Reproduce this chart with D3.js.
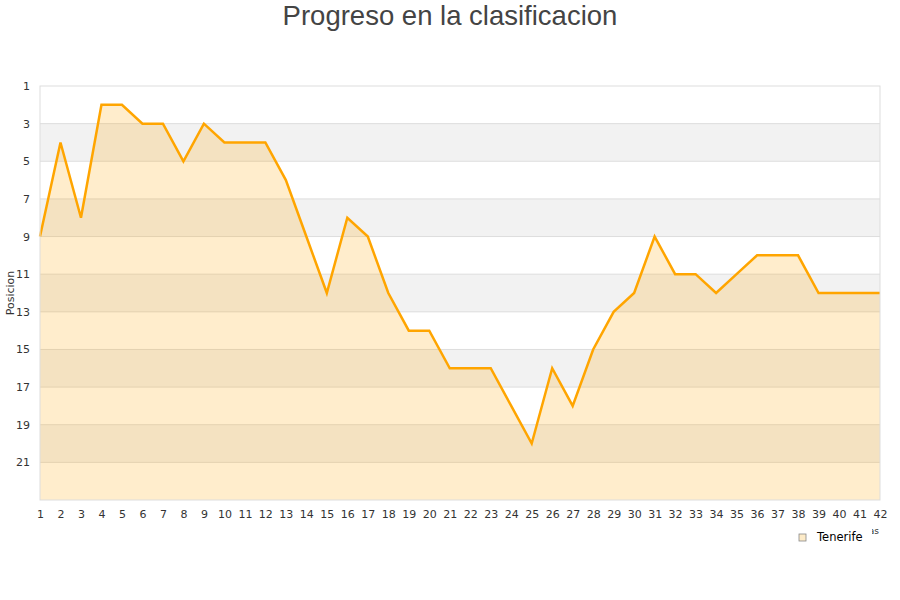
<!DOCTYPE html>
<html>
<head>
<meta charset="utf-8">
<script src="https://cdn.jsdelivr.net/npm/d3@7"></script>
<style>
  body { margin: 0; background: #fff; }
  svg { display: block; }
</style>
</head>
<body>
<div id="chart"></div>
<script>
// datos: jornada y posicion de Tenerife
var jornadas = d3.range(1, 43);
var posiciones = [9, 4, 8, 2, 2, 3, 3, 5, 3, 4, 4, 4, 6, 9, 12, 8, 9, 12, 14, 14, 16,
  16, 16, 18, 20, 16, 18, 15, 13, 12, 9, 11, 11, 12, 11, 10, 10, 10, 12, 12, 12, 12];
var yTicks = [1, 3, 5, 7, 9, 11, 13, 15, 17, 19, 21];
var equipo = "Tenerife";
var titulo = "Progreso en la clasificacion";

var data = jornadas.map(function (j, i) {
  return { j: j, pos: posiciones[i] };
});

var margin = { top: 86, right: 20, bottom: 100, left: 40 },
  width = 900 - margin.left - margin.right,
  height = 600 - margin.top - margin.bottom;

var svg = d3.select("#chart").append("svg")
  .attr("width", 900)
  .attr("height", 600);

svg.append("text")
  .attr("x", 450)
  .attr("y", 25)
  .attr("text-anchor", "middle")
  .style("font-family", "Liberation Sans, Arial, sans-serif")
  .style("font-size", "27.5px")
  .style("fill", "#444")
  .text(titulo);

var g = svg.append("g")
  .attr("transform", "translate(" + margin.left + "," + margin.top + ")");

var x = d3.scaleLinear().domain([1, 42]).range([0, width]);
var y = d3.scaleLinear().domain([1, 23]).range([0, height]);

// bandas alternas
var bandas = yTicks.map(function (t) { return [t, t + 2]; });
g.selectAll(".band")
  .data(bandas)
  .enter()
  .append("rect")
  .attr("x", 0)
  .attr("width", width)
  .attr("y", function (d) { return y(d[0]); })
  .attr("height", function (d) { return y(d[1]) - y(d[0]); })
  .style("fill", function (d, i) { return i % 2 ? "#f2f2f2" : "#ffffff"; });

// lineas de la rejilla
g.selectAll(".grid")
  .data(yTicks.slice(1))
  .enter()
  .append("line")
  .attr("x1", 0)
  .attr("x2", width)
  .attr("y1", function (d) { return y(d); })
  .attr("y2", function (d) { return y(d); })
  .style("stroke", "#dddddd")
  .style("stroke-width", 1);

// area
g.append("path")
  .datum(data)
  .attr("d", d3.area()
    .x(function (d) { return x(d.j); })
    .y0(height)
    .y1(function (d) { return y(d.pos); }))
  .style("fill", "rgba(255,165,0,0.2)");

// linea
g.append("path")
  .datum(data)
  .attr("d", d3.line()
    .x(function (d) { return x(d.j); })
    .y(function (d) { return y(d.pos); }))
  .style("fill", "none")
  .style("stroke", "#ffa500")
  .style("stroke-width", 2.5)
  .style("stroke-linejoin", "miter");

// borde
g.append("rect")
  .attr("width", width)
  .attr("height", height)
  .style("fill", "none")
  .style("stroke", "#dddddd");

// ejes
var xAxis = g.append("g")
  .attr("transform", "translate(0," + height + ")")
  .call(d3.axisBottom(x).tickValues(jornadas).tickSize(0).tickPadding(10).tickFormat(d3.format("d")));
var yAxis = g.append("g")
  .call(d3.axisLeft(y).tickValues(yTicks).tickSize(0).tickPadding(10));

[xAxis, yAxis].forEach(function (a) {
  a.select(".domain").remove();
  a.selectAll("text")
    .style("font-family", "DejaVu Sans, sans-serif")
    .style("font-size", "11px")
    .style("fill", "#333");
});

svg.append("text")
  .attr("transform", "translate(14," + (margin.top + height / 2) + ") rotate(-90)")
  .attr("text-anchor", "middle")
  .style("font-family", "DejaVu Sans, sans-serif")
  .style("font-size", "11px")
  .style("fill", "#333")
  .text("Posicion");

// titulo eje x (casi tapado por la leyenda)
svg.append("text")
  .attr("x", 879)
  .attr("y", 534)
  .attr("text-anchor", "end")
  .style("font-family", "DejaVu Sans, sans-serif")
  .style("font-size", "9px")
  .style("fill", "#333")
  .text("Jornadas");

// leyenda
var legend = svg.append("g").attr("transform", "translate(790,522)");
legend.append("rect")
  .attr("width", 82)
  .attr("height", 28)
  .style("fill", "#fff");
legend.append("rect")
  .attr("x", 9)
  .attr("y", 12)
  .attr("width", 7)
  .attr("height", 7)
  .style("fill", "#fdebc8")
  .style("stroke", "#888")
  .style("stroke-width", 0.8);
legend.append("text")
  .attr("x", 27)
  .attr("y", 19)
  .style("font-family", "DejaVu Sans, sans-serif")
  .style("font-size", "11.5px")
  .style("fill", "#000")
  .text(equipo);
</script>
</body>
</html>
